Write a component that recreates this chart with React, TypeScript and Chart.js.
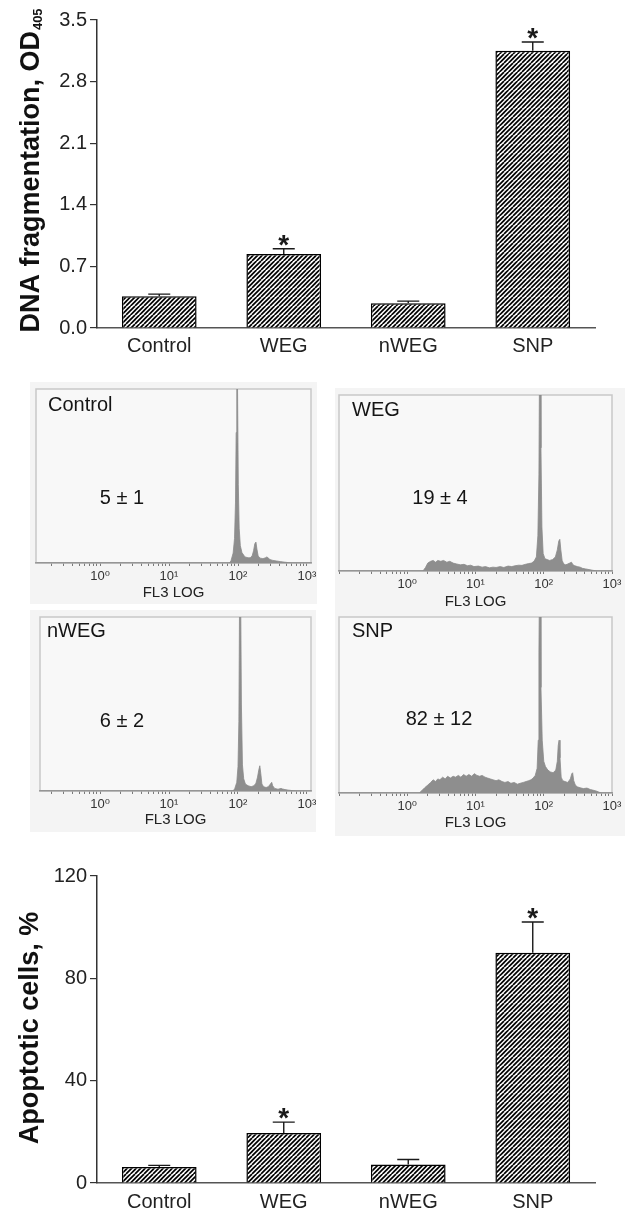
import React, { useEffect, useRef } from "react";
import { Chart, registerables } from "chart.js";

Chart.register(...registerables);

const FONT = "'Liberation Sans', Arial, Helvetica, 'DejaVu Sans', sans-serif";

// ---------- Bar chart data ----------
const categories = ["Control", "WEG", "nWEG", "SNP"];

const dnaMeans = [0.36, 0.84, 0.28, 3.15];
const dnaErrors = [0.025, 0.06, 0.025, 0.1];
const dnaSignificant = [false, true, false, true];
const dnaTicks = [0, 0.7, 1.4, 2.1, 2.8, 3.5];
const dnaTitle = "DNA fragmentation, OD";
const dnaTitleSub = "405";

const apoMeans = [6.3, 19.5, 7.2, 90];
const apoErrors = [0.6, 4.3, 2, 12];
const apoSignificant = [false, true, false, true];
const apoTicks = [0, 40, 80, 120];
const apoTitle = "Apoptotic cells, %";

// ---------- Flow cytometry panels ----------
const flowNames = ["Control", "WEG", "nWEG", "SNP"];
const flowValues = ["5 ± 1", "19 ± 4", "6 ± 2", "82 ± 12"];
const flowTickValues = [1, 10, 100, 1000];
const flowTickLabels = ["10⁰", "10¹", "10²", "10³"];
const flowAxisTitle = "FL3 LOG";

const controlHistX = [0.12, 75, 79, 85, 89, 92, 94, 96, 98, 101, 104, 108, 114, 126, 140, 150, 160, 168, 175, 182, 188, 196, 210, 230, 250, 262, 272, 290, 320, 360, 410, 470, 540, 600, 1140];
const controlHistY = [0, 0, 1.2, 5.7, 14, 35, 75, 130, 110, 45, 20, 10, 6, 3.5, 3, 3, 4, 7, 11, 12, 8, 4, 2.8, 2.5, 3, 3.5, 3, 2, 1.5, 1.2, 0.8, 0.5, 0.2, 0, 0];

const wegHistX = [0.1, 1.7, 1.85, 2.0, 2.2, 2.4, 2.6, 2.8, 3.1, 3.4, 3.8, 4.2, 4.7, 5.3, 6.0, 6.8, 7.6, 8.5, 9.5, 11, 12.5, 14, 16, 18, 20, 23, 26, 30, 34, 38, 43, 48, 54, 60, 66, 72, 78, 82, 85, 87, 89, 91, 94, 98, 104, 112, 122, 135, 148, 158, 166, 172, 178, 186, 196, 210, 225, 240, 255, 268, 285, 310, 340, 370, 410, 460, 520, 600, 1000];
const wegHistY = [0, 0, 2, 4.5, 5.5, 6, 5, 6, 5.5, 6, 5, 5.5, 4.5, 4, 3.5, 3.8, 3, 3.3, 2.5, 2.8, 2.2, 2.5, 1.8, 2.2, 2, 2.5, 2, 2.8, 2.5, 3, 3.3, 3.2, 3.8, 4.2, 4.5, 5.5, 8, 20, 55, 130, 120, 70, 25, 10, 7, 6.5, 6, 6.5, 8, 12, 17, 18, 12, 6, 4, 3.5, 4, 4.5, 5, 3.5, 3, 2.5, 2.2, 1.5, 1.2, 0.8, 0.4, 0, 0];

const nwegHistX = [0.13, 85, 90, 96, 100, 103, 106, 109, 112, 116, 121, 128, 140, 155, 170, 182, 192, 200, 207, 214, 222, 235, 255, 275, 295, 308, 318, 340, 380, 420, 440, 480, 540, 620, 700, 1140];
const nwegHistY = [0, 0, 1.5, 5, 14, 40, 130, 120, 50, 15, 7, 4, 3, 2.5, 3, 4.5, 8, 12, 14.5, 10, 4, 2.5, 2, 2.5, 4, 5, 3, 1.5, 1, 1.5, 1.2, 0.8, 0.5, 0.2, 0, 0];

const snpHistX = [0.1, 1.5, 1.65, 1.8, 2.0, 2.2, 2.4, 2.6, 2.8, 3.0, 3.3, 3.6, 3.9, 4.3, 4.7, 5.1, 5.6, 6.1, 6.7, 7.3, 8.0, 8.8, 9.6, 10.5, 11.5, 12.5, 13.8, 15, 16.5, 18, 20, 22, 24.5, 27, 30, 33, 37, 41, 45, 50, 55, 60, 65, 70, 75, 80, 83, 85, 87, 89, 91, 95, 100, 106, 115, 125, 137, 150, 158, 163, 168, 173, 180, 190, 205, 225, 245, 258, 265, 275, 290, 310, 340, 380, 430, 480, 540, 600, 660, 700, 1000];
const snpHistY = [0, 0, 1.5, 3, 4.5, 6, 7.5, 6.5, 8, 7.5, 9, 8, 9.5, 8.5, 9.5, 9, 10, 9, 10.5, 9.5, 10.5, 9.5, 11, 10, 9.5, 10, 9, 8.5, 8, 7.5, 7, 7.5, 6.5, 6, 6.5, 5.5, 6, 5, 5.5, 6, 6.5, 7, 7.5, 8.5, 10, 14, 30, 80, 130, 120, 60, 30, 18, 15, 13, 12, 11.5, 13, 18, 27, 30, 20, 9, 7, 6.5, 6, 8, 11, 11.5, 7, 4.5, 3.5, 3, 2.5, 2.8, 2, 1.5, 1, 0.3, 0, 0];

const flowHistX = [controlHistX, wegHistX, nwegHistX, snpHistX];
const flowHistY = [controlHistY, wegHistY, nwegHistY, snpHistY];

// ---------- layout (positions / sizes) ----------
const flowLayout = [
  { left: 30, top: 382, width: 287, height: 222, padLeft: 6, padTop: 7, padRight: 6, axisHeight: 41, xMin: 0.118, xMax: 1143, titlePad: 2, nameDx: 12, nameDy: 22, valueDx: 86, valueDy: 109 },
  { left: 335, top: 388, width: 290, height: 224, padLeft: 4, padTop: 7, padRight: 13, axisHeight: 41, xMin: 0.1, xMax: 1000, titlePad: 1, nameDx: 13, nameDy: 21, valueDx: 101, valueDy: 103 },
  { left: 30, top: 610, width: 286, height: 222, padLeft: 10, padTop: 7, padRight: 5, axisHeight: 41, xMin: 0.135, xMax: 1143, titlePad: 3, nameDx: 7, nameDy: 20, valueDx: 82, valueDy: 104 },
  { left: 335, top: 612, width: 290, height: 224, padLeft: 4, padTop: 5, padRight: 13, axisHeight: 43, xMin: 0.1, xMax: 1000, titlePad: 4, nameDx: 13, nameDy: 20, valueDx: 100, valueDy: 102 },
];

function makeHatch(): CanvasPattern | string {
  const c = document.createElement("canvas");
  c.width = 9;
  c.height = 9;
  const g = c.getContext("2d");
  if (!g) return "#777";
  g.fillStyle = "#ffffff";
  g.fillRect(0, 0, 9, 9);
  g.strokeStyle = "#000000";
  g.lineWidth = 1.7;
  for (const k of [-9, -4.5, 0, 4.5, 9]) {
    g.beginPath();
    g.moveTo(k, 9);
    g.lineTo(k + 9, 0);
    g.stroke();
  }
  return g.createPattern(c, "repeat") || "#777";
}

type BarProps = {
  top: number;
  width: number;
  height: number;
  padTop: number;
  padRight: number;
  xHeight: number;
  labelPad: number;
  means: number[];
  errors: number[];
  significant: boolean[];
  ticks: number[];
  decimals: number;
  title: string;
  titleSub?: string;
  titleCenterY: number;
  titleBaseX: number;
};

function BarPanel(p: BarProps) {
  const ref = useRef<HTMLCanvasElement | null>(null);
  useEffect(() => {
    if (!ref.current) return;
    const extras = {
      id: "barExtras",
      afterDatasetsDraw(chart: any) {
        const ctx = chart.ctx;
        const meta = chart.getDatasetMeta(0);
        const y = chart.scales.y;
        ctx.save();
        ctx.strokeStyle = "#1a1a1a";
        ctx.lineWidth = 1.4;
        meta.data.forEach((el: any, i: number) => {
          const x = el.x;
          const top = y.getPixelForValue(p.means[i]);
          const cap = y.getPixelForValue(p.means[i] + p.errors[i]);
          ctx.beginPath();
          ctx.moveTo(x, top);
          ctx.lineTo(x, cap);
          ctx.moveTo(x - 11, cap);
          ctx.lineTo(x + 11, cap);
          ctx.stroke();
          if (p.significant[i]) {
            const size = 28;
            ctx.fillStyle = "#1a1a1a";
            ctx.font = `bold ${size}px ${FONT}`;
            ctx.textAlign = "center";
            ctx.textBaseline = "alphabetic";
            ctx.fillText("*", x, cap - 11 + 0.58 * size);
          }
        });
        ctx.restore();
      },
      afterDraw(chart: any) {
        const ctx = chart.ctx;
        ctx.save();
        ctx.fillStyle = "#111";
        ctx.translate(p.titleBaseX, p.titleCenterY);
        ctx.rotate(-Math.PI / 2);
        ctx.textBaseline = "alphabetic";
        ctx.textAlign = "left";
        ctx.font = `bold 27px ${FONT}`;
        const w1 = ctx.measureText(p.title).width;
        let w2 = 0;
        if (p.titleSub) {
          ctx.font = `bold 13px ${FONT}`;
          w2 = ctx.measureText(p.titleSub).width;
        }
        const start = -(w1 + w2) / 2;
        ctx.font = `bold 27px ${FONT}`;
        ctx.fillText(p.title, start, 0);
        if (p.titleSub) {
          ctx.font = `bold 13px ${FONT}`;
          ctx.fillText(p.titleSub, start + w1 + 1, 3);
        }
        ctx.restore();
      },
    };
    const chart = new Chart(ref.current, {
      type: "bar",
      data: {
        labels: categories,
        datasets: [
          {
            data: p.means,
            backgroundColor: makeHatch() as any,
            borderColor: "#000",
            borderWidth: 1.5,
            barPercentage: 0.6,
            categoryPercentage: 1,
          },
        ],
      },
      options: {
        responsive: false,
        animation: false,
        layout: { padding: { top: p.padTop, right: p.padRight, left: 0, bottom: 0 } },
        plugins: { legend: { display: false }, tooltip: { enabled: false } },
        scales: {
          x: {
            grid: { display: false, drawTicks: false },
            border: { display: true, color: "#555", width: 1.5 },
            ticks: { color: "#222", font: { size: 20, family: FONT }, padding: p.labelPad, maxRotation: 0 },
            afterFit: (s: any) => {
              s.height = p.xHeight;
              s.paddingLeft = 0;
              s.paddingRight = 0;
            },
          },
          y: {
            min: 0,
            max: p.ticks[p.ticks.length - 1],
            afterBuildTicks: (s: any) => {
              s.ticks = p.ticks.map((v) => ({ value: v }));
            },
            ticks: {
              callback: (v: any) => Number(v).toFixed(p.decimals),
              color: "#222",
              font: { size: 20, family: FONT },
              padding: 3,
            },
            grid: { drawOnChartArea: false, drawTicks: true, tickLength: 7, color: "#333", lineWidth: 1.2 },
            border: { display: true, color: "#333", width: 1.5 },
            afterFit: (s: any) => {
              s.width = 97;
              s.paddingTop = 0;
              s.paddingBottom = 0;
            },
          },
        },
      },
      plugins: [extras],
    });
    return () => chart.destroy();
  }, []);
  return (
    <canvas
      ref={ref}
      width={p.width}
      height={p.height}
      style={{ position: "absolute", left: 0, top: p.top, width: p.width, height: p.height }}
    />
  );
}

function minorTicks(min: number, max: number) {
  const out: { value: number }[] = [];
  for (let d = -1; d <= 3; d++) {
    for (let m = 1; m <= 9; m++) {
      const v = m * Math.pow(10, d);
      if (v >= min && v <= max) out.push({ value: v });
    }
  }
  return out;
}

function FlowPanel({ index }: { index: number }) {
  const ref = useRef<HTMLCanvasElement | null>(null);
  const L = flowLayout[index];
  useEffect(() => {
    if (!ref.current) return;
    const xs = flowHistX[index];
    const ys = flowHistY[index];
    const panelPlugin = {
      id: "panelDecor",
      beforeDraw(chart: any) {
        const { ctx, chartArea: a, width, height } = chart;
        ctx.save();
        ctx.fillStyle = "#f4f4f4";
        ctx.fillRect(0, 0, width, height);
        ctx.fillStyle = "#f8f8f8";
        ctx.fillRect(a.left, a.top, a.right - a.left, a.bottom - a.top);
        ctx.strokeStyle = "#c8c8c8";
        ctx.lineWidth = 1.5;
        ctx.strokeRect(a.left, a.top, a.right - a.left, a.bottom - a.top);
        ctx.restore();
      },
      afterDraw(chart: any) {
        const { ctx, chartArea: a } = chart;
        ctx.save();
        ctx.fillStyle = "#151515";
        ctx.font = `20px ${FONT}`;
        ctx.textBaseline = "alphabetic";
        ctx.textAlign = "left";
        ctx.fillText(flowNames[index], a.left + L.nameDx, a.top + L.nameDy);
        ctx.textAlign = "center";
        ctx.textBaseline = "middle";
        ctx.fillText(flowValues[index], a.left + L.valueDx, a.top + L.valueDy);
        ctx.restore();
      },
    };
    const chart = new Chart(ref.current, {
      type: "line",
      data: {
        datasets: [
          {
            data: xs.map((x, i) => ({ x, y: ys[i] })),
            fill: "origin",
            backgroundColor: "#8e8e8e",
            borderColor: "#8a8a8a",
            borderWidth: 0.8,
            pointRadius: 0,
            tension: 0,
          },
        ],
      },
      options: {
        responsive: false,
        animation: false,
        layout: { padding: { left: L.padLeft, top: L.padTop, right: L.padRight, bottom: 0 } },
        plugins: { legend: { display: false }, tooltip: { enabled: false } },
        scales: {
          x: {
            type: "logarithmic",
            min: L.xMin,
            max: L.xMax,
            afterBuildTicks: (s: any) => {
              s.ticks = minorTicks(L.xMin, L.xMax);
            },
            afterFit: (s: any) => {
              s.height = L.axisHeight;
              s.paddingLeft = 0;
              s.paddingRight = 0;
            },
            ticks: {
              autoSkip: false,
              maxRotation: 0,
              minRotation: 0,
              padding: 3,
              color: "#333",
              font: { size: 13, family: FONT },
              callback: (v: any) => {
                const k = flowTickValues.indexOf(Number(v));
                return k >= 0 ? flowTickLabels[k] : "";
              },
            },
            grid: { display: true, drawOnChartArea: false, drawTicks: true, tickLength: 3, color: "#7a7a7a", lineWidth: 1 },
            border: { display: true, color: "#9c9c9c", width: 1.5 },
            title: {
              display: true,
              text: flowAxisTitle,
              color: "#222",
              font: { size: 15, family: FONT },
              padding: { top: 0, bottom: L.titlePad },
            },
          },
          y: { display: false, min: 0, max: 100 },
        },
      },
      plugins: [panelPlugin],
    });
    return () => chart.destroy();
  }, []);
  return (
    <canvas
      ref={ref}
      width={L.width}
      height={L.height}
      style={{ position: "absolute", left: L.left, top: L.top, width: L.width, height: L.height }}
    />
  );
}

export default function App() {
  return (
    <div
      style={{
        position: "absolute",
        left: 0,
        top: 0,
        width: 625,
        height: 1209,
        overflow: "hidden",
        background: "#fff",
      }}
    >
      <BarPanel
        top={0}
        width={610}
        height={362}
        padTop={20}
        padRight={15}
        xHeight={34}
        labelPad={6}
        means={dnaMeans}
        errors={dnaErrors}
        significant={dnaSignificant}
        ticks={dnaTicks}
        decimals={1}
        title={dnaTitle}
        titleSub={dnaTitleSub}
        titleCenterY={171}
        titleBaseX={39}
      />
      {flowLayout.map((_, i) => (
        <FlowPanel key={i} index={i} />
      ))}
      <BarPanel
        top={850}
        width={610}
        height={359}
        padTop={26}
        padRight={15}
        xHeight={26}
        labelPad={7}
        means={apoMeans}
        errors={apoErrors}
        significant={apoSignificant}
        ticks={apoTicks}
        decimals={0}
        title={apoTitle}
        titleCenterY={178}
        titleBaseX={38}
      />
    </div>
  );
}
